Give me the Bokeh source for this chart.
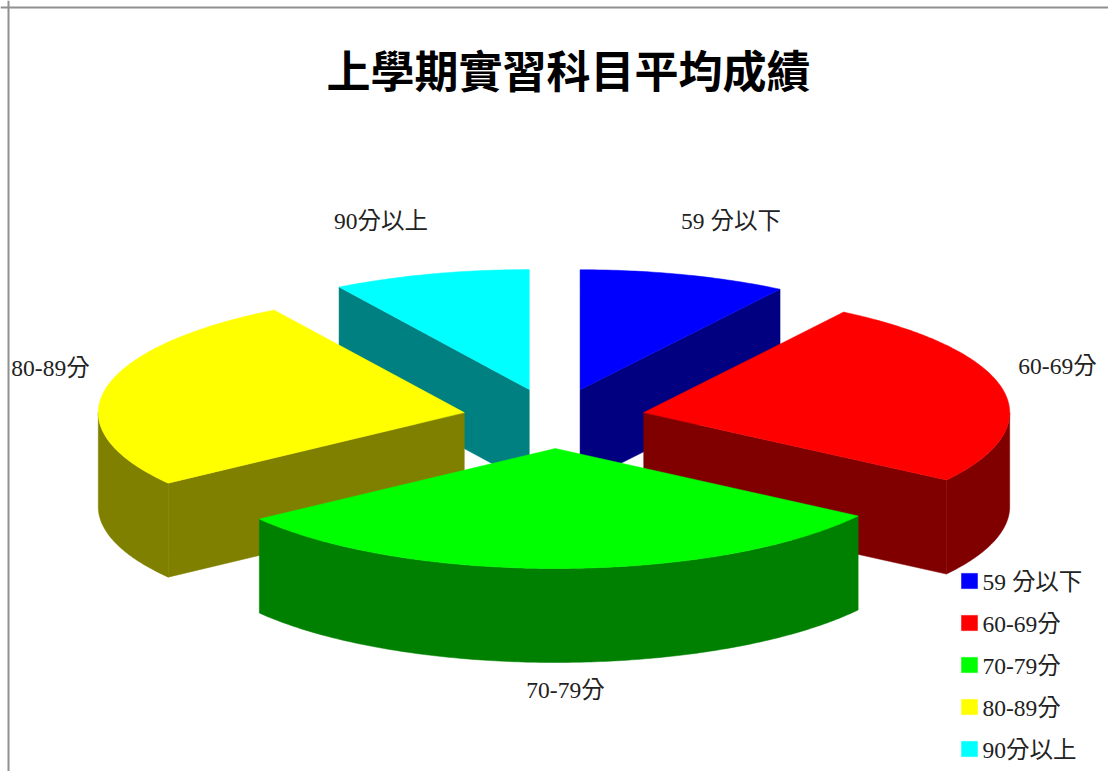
import math
from bokeh.plotting import figure
from bokeh.models import Range1d, Legend, LegendItem, Span
from bokeh.core.properties import value
from bokeh.embed import file_html
from bokeh.resources import INLINE

# ---- data ----
title_text = "上學期實習科目平均成績"
categories = ["59 分以下", "60-69分", "70-79分", "80-89分", "90分以上"]
shares = [9.2, 25.3, 30.5, 26.3, 8.7]

# ---- style ----
top_colors = ["#0000ff", "#ff0000", "#00ff00", "#ffff00", "#00ffff"]
wall_colors = ["#000080", "#800000", "#008000", "#808000", "#008080"]
label_x = [730.5, 1057, 565, 50, 380.5]
label_y = [220, 365, 689, 367, 220]
FONT = "Liberation Serif, Noto Sans CJK TC"

# ---- 3D pie geometry (in page pixels) ----
CX, CY = 553.5, 418
RX, RY = 366, 120
DEPTH = 94
EXPLODE = 0.25
PAINT_ORDER = [4, 0, 1, 3, 2]

W, H = 1108, 771
p = figure(width=W, height=H, output_backend="svg", toolbar_location=None,
           x_range=Range1d(0, W), y_range=Range1d(H, 0),
           min_border=0, outline_line_color=None, background_fill_color="white")
p.axis.visible = False
p.grid.visible = False

total = sum(shares)
bounds = [0.0]
for s in shares:
    bounds.append(bounds[-1] + s / total * 2 * math.pi)


def arc(ax, ay, a0, a1):
    n = max(2, int(abs(a1 - a0) * 80))
    angs = [a0 + (a1 - a0) * i / n for i in range(n + 1)]
    return ([ax + RX * math.sin(t) for t in angs], [ay - RY * math.cos(t) for t in angs])


tops = {}
for i in PAINT_ORDER:
    a0, a1 = bounds[i], bounds[i + 1]
    mid = (a0 + a1) / 2
    ax = CX + EXPLODE * RX * math.sin(mid)
    ay = CY - EXPLODE * RY * math.cos(mid)

    wall_xs, wall_ys = [], []
    # radial faces turned toward the viewer
    for ang, visible in ((a0, math.sin(a0) < -1e-9), (a1, math.sin(a1) > 1e-9)):
        if visible:
            ex, ey = ax + RX * math.sin(ang), ay - RY * math.cos(ang)
            wall_xs.append([ax, ex, ex, ax])
            wall_ys.append([ay, ey, ey + DEPTH, ay + DEPTH])
    # outer rim, only the front half of the ellipse
    lo, hi = max(a0, math.pi / 2), min(a1, 3 * math.pi / 2)
    if hi > lo:
        xs, ys = arc(ax, ay, lo, hi)
        wall_xs.append(xs + xs[::-1])
        wall_ys.append(ys + [y + DEPTH for y in ys[::-1]])
    if wall_xs:
        p.patches(wall_xs, wall_ys, fill_color=wall_colors[i], line_color=wall_colors[i], line_width=0.5)

    xs, ys = arc(ax, ay, a0, a1)
    tops[i] = p.patches([[ax] + xs], [[ay] + ys], fill_color=top_colors[i],
                        line_color=top_colors[i], line_width=0.5)

# slice labels and title
p.text(label_x, label_y, text=categories, text_font=value(FONT), text_font_size="23.5px",
       text_color="#222222", text_align="center", text_baseline="middle")
p.text([568], [68], text=[title_text], text_font=value("Noto Sans CJK TC"), text_font_size="44px",
       text_font_style="bold", text_color="#000000", text_align="center", text_baseline="middle")

# chart-area frame: top and left edges
p.add_layout(Span(location=7, dimension="width", line_color="#909090", line_width=2))
p.add_layout(Span(location=8, dimension="height", line_color="#909090", line_width=2))

legend = Legend(items=[LegendItem(label=c, renderers=[tops[i]]) for i, c in enumerate(categories)],
                location=(958.5, 6), orientation="vertical", spacing=8,
                glyph_width=20, glyph_height=19, label_width=90, label_height=16,
                label_standoff=4, margin=0, padding=0,
                border_line_color=None, background_fill_alpha=0,
                label_text_font=FONT, label_text_font_size="23.5px", label_text_color="#222222",
                label_text_baseline="middle")
p.add_layout(legend)

open("out.html", "w").write(file_html(p, INLINE))
